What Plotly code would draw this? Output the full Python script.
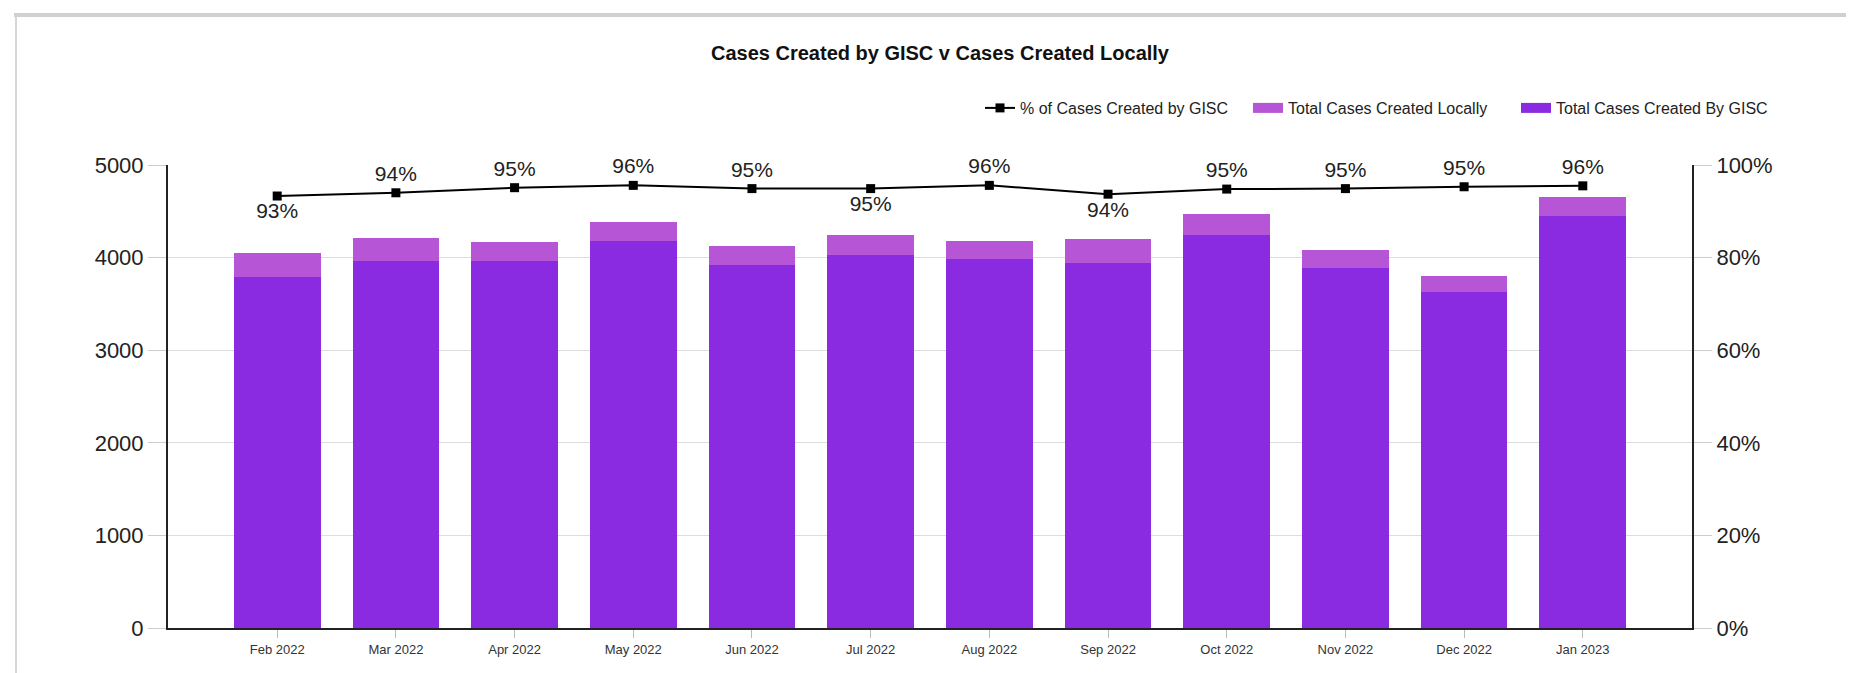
import plotly.graph_objects as go

months = ["Feb 2022", "Mar 2022", "Apr 2022", "May 2022", "Jun 2022", "Jul 2022",
          "Aug 2022", "Sep 2022", "Oct 2022", "Nov 2022", "Dec 2022", "Jan 2023"]
cases_gisc = [3795, 3965, 3967, 4181, 3922, 4027, 3990, 3939, 4244, 3884, 3632, 4445]
cases_local = [258, 251, 200, 201, 208, 213, 189, 261, 228, 201, 165, 210]
pct_gisc = [93.3, 94.0, 95.1, 95.6, 94.9, 94.9, 95.6, 93.7, 94.8, 94.9, 95.3, 95.5]
label_pos = ["bottom center", "top center", "top center", "top center", "top center",
             "bottom center", "top center", "bottom center", "top center", "top center",
             "top center", "top center"]

FONT = "Liberation Sans Narrow, Arial Narrow, Liberation Sans, Arial, sans-serif"
C_GISC = "#8A2BE2"
C_LOCAL = "#B655D6"

W, H = 1854, 673
L, R, T, B = 160, 1684, 157, 620


def px_x(p):
    return (p - L) / (R - L)


def px_y(p):
    return (B - p) / (B - T)


fig = go.Figure()
fig.add_trace(go.Bar(
    x=months, y=cases_gisc, name="Total Cases Created By GISC",
    marker=dict(color=C_GISC, line=dict(width=0)),
    legendgroup="gisc", showlegend=False, yaxis="y"))
fig.add_trace(go.Bar(
    x=months, y=cases_local, name="Total Cases Created Locally",
    marker=dict(color=C_LOCAL, line=dict(width=0)),
    legendgroup="local", showlegend=False, yaxis="y"))
fig.add_trace(go.Scatter(
    x=months, y=pct_gisc, name="% of Cases Created by GISC",
    mode="lines+markers+text", yaxis="y2",
    line=dict(color="#000000", width=2),
    marker=dict(symbol="square", size=9, color="#000000"),
    texttemplate="%{y:.0f}%", textposition=label_pos,
    textfont=dict(family=FONT, size=21, color="#222222"),
    legendrank=1, cliponaxis=False))
# wide legend swatches for the two bar series
fig.add_trace(go.Scatter(
    x=[None], y=[None], mode="lines", name="Total Cases Created Locally",
    line=dict(color=C_LOCAL, width=12), legendgroup="local", legendrank=2,
    hoverinfo="skip"))
fig.add_trace(go.Scatter(
    x=[None], y=[None], mode="lines", name="Total Cases Created By GISC",
    line=dict(color=C_GISC, width=12), legendgroup="gisc", legendrank=3,
    hoverinfo="skip"))

fig.update_layout(
    width=W, height=H,
    margin=dict(l=L, r=W - R, t=T, b=H - B, pad=0),
    paper_bgcolor="white", plot_bgcolor="white",
    barmode="stack", bargap=0.27,
    font=dict(family=FONT, color="#222222"),
    title=dict(text="Cases Created by GISC v Cases Created Locally",
               font=dict(family=FONT, size=20, color="#111111", weight="bold"),
               x=px_x(932), xref="paper", xanchor="center",
               y=1 - 45 / H, yref="container", yanchor="middle"),
    showlegend=True,
    legend=dict(orientation="h", x=px_x(972), xanchor="left",
                y=px_y(100), yanchor="middle", traceorder="normal",
                font=dict(family=FONT, size=16, color="#222222"),
                bgcolor="rgba(0,0,0,0)", itemwidth=30,
                entrywidth=223, entrywidthmode="pixels"),
    xaxis=dict(type="category", range=[-0.92, 11.92],
               showline=True, linecolor="#222222", linewidth=2,
               ticks="outside", ticklen=8, tickcolor="#bbbbbb",
               tickfont=dict(family=FONT, size=13, color="#333333"),
               showgrid=False, zeroline=False),
    yaxis=dict(range=[0, 5000], dtick=1000, tick0=0,
               showline=True, linecolor="#222222", linewidth=2,
               ticks="outside", ticklen=18, tickcolor="#cccccc",
               tickfont=dict(family=FONT, size=22, color="#222222"),
               showgrid=True, gridcolor="#dddddd", gridwidth=1,
               zeroline=False),
    yaxis2=dict(range=[0, 100], dtick=20, tick0=0, ticksuffix="%",
                overlaying="y", side="right",
                showline=True, linecolor="#222222", linewidth=2,
                ticks="outside", ticklen=18, tickcolor="#cccccc",
                tickfont=dict(family=FONT, size=22, color="#222222"),
                showgrid=False, zeroline=False),
)

# light grey frame around the chart panel
fig.add_shape(type="line", xref="paper", yref="paper",
              x0=px_x(6), x1=px_x(1850), y0=px_y(7), y1=px_y(7),
              line=dict(color="#d0d0d0", width=4))
fig.add_shape(type="line", xref="paper", yref="paper",
              x0=px_x(8), x1=px_x(8), y0=px_y(7), y1=px_y(680),
              line=dict(color="#d6d6d6", width=2))
fig.add_shape(type="line", xref="paper", yref="paper",
              x0=px_x(1848), x1=px_x(1848), y0=px_y(7), y1=px_y(680),
              line=dict(color="#d6d6d6", width=2))

fig.write_html("out.html")
